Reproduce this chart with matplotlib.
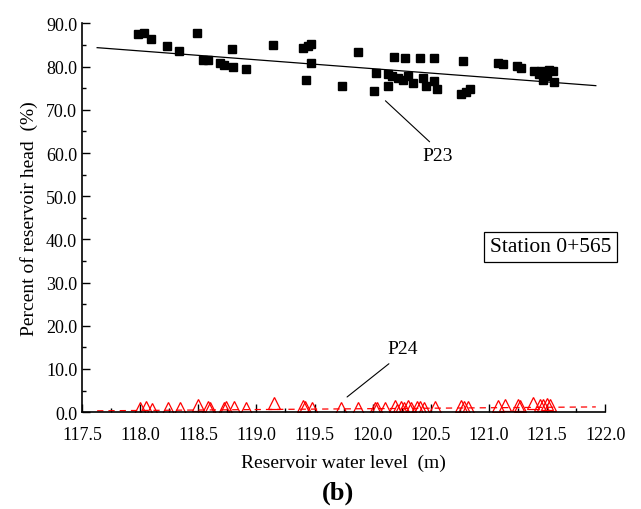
import numpy as np
import matplotlib.pyplot as plt
from matplotlib.ticker import MultipleLocator, FormatStrFormatter

plt.rcParams['font.family'] = ['Liberation Serif', 'DejaVu Serif']

# P23 measurements (water level m, percent of reservoir head %)
p23_level = [117.98, 118.03, 118.09, 118.23, 118.33, 118.49, 118.54, 118.58, 118.69, 118.72,
             118.79, 118.80, 118.91, 119.14, 119.40, 119.44, 119.47, 119.47, 119.43, 119.74,
             119.87, 120.01, 120.03, 120.13, 120.13, 120.18, 120.28, 120.41, 120.53, 120.17,
             120.22, 120.26, 120.30, 120.35, 120.43, 120.46, 120.53, 120.55, 120.78, 120.76,
             120.80, 120.84, 121.08, 121.12, 121.24, 121.28, 121.39, 121.45, 121.52, 121.55,
             121.47, 121.56, 121.43, 121.50]
p23_head = [87.6, 87.8, 86.3, 84.9, 83.7, 87.9, 81.6, 81.6, 80.9, 80.5,
            84.0, 80.0, 79.5, 85.0, 84.4, 84.9, 85.2, 80.8, 76.9, 75.5,
            83.5, 74.3, 78.5, 78.3, 75.6, 82.2, 82.1, 82.1, 81.9, 77.9,
            77.4, 77.0, 77.9, 76.3, 77.4, 75.6, 76.7, 74.9, 81.4, 73.6,
            74.2, 74.8, 80.9, 80.6, 80.1, 79.6, 78.9, 79.1, 79.2, 78.9,
            77.0, 76.5, 78.4, 77.8]

# P24 measurements
p24_level = [118.00, 118.05, 118.10, 118.24, 118.34, 118.50, 118.58, 118.60, 118.72, 118.74,
             118.81, 118.91, 119.15, 119.40, 119.42, 119.48, 119.73, 119.87, 120.02, 120.04,
             120.11, 120.19, 120.21, 120.24, 120.27, 120.30, 120.33, 120.38, 120.41, 120.44,
             120.54, 120.76, 120.79, 120.82, 121.08, 121.14, 121.25, 121.27, 121.38, 121.44,
             121.47, 121.50, 121.53]
p24_head = [1.0, 1.2, 0.8, 0.9, 0.9, 1.7, 1.2, 1.0, 0.9, 1.1,
            1.2, 0.9, 2.0, 1.4, 1.2, 1.0, 1.0, 0.9, 0.9, 1.0,
            1.0, 1.3, 0.6, 1.2, 1.0, 1.3, 0.9, 1.2, 1.2, 1.0,
            1.1, 1.3, 1.1, 1.2, 1.5, 1.6, 1.7, 1.5, 2.0, 1.6,
            1.7, 1.9, 1.7]

# fitted trend lines
fit_x = [117.63, 121.92]
p23_fit = [84.4, 75.6]
p24_fit = [0.3, 1.2]

fig = plt.figure(figsize=(6.41, 5.10), dpi=100)
ax = fig.add_axes([0.128, 0.19, 0.816, 0.762])

ax.plot(fit_x, p23_fit, color='black', lw=0.9)
ax.plot(fit_x, p24_fit, color='red', lw=0.9, ls=(0, (5, 4)))
ax.plot(p23_level, p23_head, ls='none', marker='s', ms=6.3, color='black')
ax.plot(p24_level, p24_head, ls='none', marker='^', ms=8.8, mfc='none',
        mec='red', mew=0.9)

ax.set_xlim(117.5, 122.0)
ax.set_ylim(0, 90)
ax.xaxis.set_major_locator(MultipleLocator(0.5))
ax.xaxis.set_minor_locator(MultipleLocator(0.25))
ax.yaxis.set_major_locator(MultipleLocator(10))
ax.yaxis.set_minor_locator(MultipleLocator(5))
ax.xaxis.set_major_formatter(FormatStrFormatter('%.1f'))
ax.yaxis.set_major_formatter(FormatStrFormatter('%.1f'))
ax.tick_params(which='both', direction='in', labelsize=13, width=1.0)
ax.tick_params(which='major', length=6)
ax.tick_params(which='minor', length=3)
ax.tick_params(axis='x', pad=10)
ax.spines['top'].set_visible(False)
ax.spines['right'].set_visible(False)
ax.spines['left'].set_linewidth(1.2)
ax.spines['bottom'].set_linewidth(1.2)

ax.set_xlabel('Reservoir water level  (m)', fontsize=14, labelpad=8)
ax.set_ylabel('Percent of reservoir head  (%)', fontsize=14, labelpad=6)

# leader lines and labels
ax.annotate('', xy=(120.11, 72.1), xytext=(120.49, 62.6),
            arrowprops=dict(arrowstyle='-', color='black', lw=0.8, shrinkA=0, shrinkB=0))
ax.text(120.56, 59.5, 'P23', fontsize=14, ha='center', va='center')
ax.annotate('', xy=(119.78, 3.5), xytext=(120.14, 11.2),
            arrowprops=dict(arrowstyle='-', color='black', lw=0.8, shrinkA=0, shrinkB=0))
ax.text(120.26, 14.7, 'P24', fontsize=14, ha='center', va='center')

fig.text(0.859, 0.514, 'Station 0+565', fontsize=15.5, ha='center', va='center',
         bbox=dict(boxstyle='square,pad=0.27', fc='white', ec='black', lw=0.9))
fig.text(0.528, 0.033, '(b)', fontsize=19, fontweight='bold', ha='center', va='center')

fig.savefig('out.png', dpi=100)
